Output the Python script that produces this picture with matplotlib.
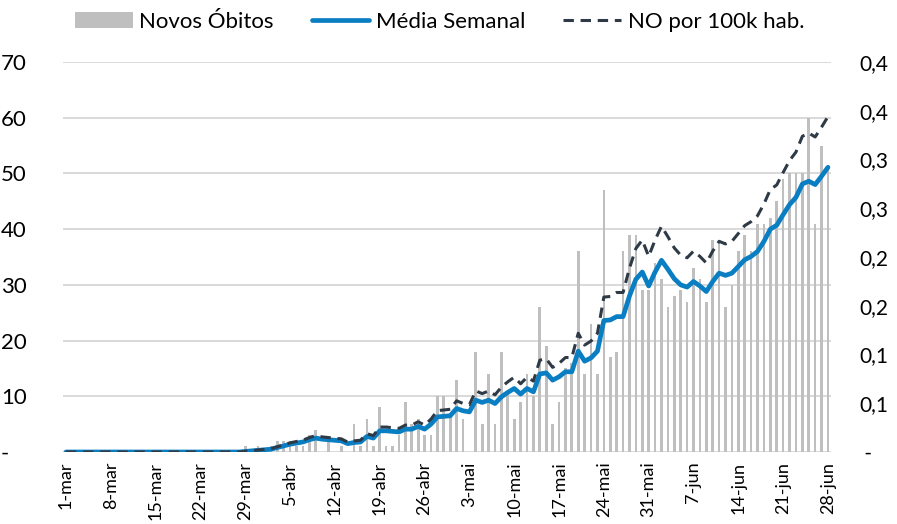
import numpy as np
import matplotlib.pyplot as plt
from matplotlib.ticker import FixedLocator, FixedFormatter

plt.rcParams["font.family"] = ["Lato", "DejaVu Sans"]

# daily deaths, 1-mar .. 28-jun
novos_obitos = [0] * 28 + [
    1, 0, 1, 0, 1, 2, 2, 2, 1, 1, 3, 4, 0, 2, 0, 1, 0, 5, 1, 6,
    1, 8, 1, 1, 3, 9, 5, 6, 3, 3, 10, 10, 7, 13, 6, 0, 18, 5, 14, 5,
    18, 11, 6, 9, 14, 10, 26, 19, 5, 9, 15, 16, 36, 14, 23, 14, 47, 17, 18, 36,
    39, 39, 29, 29, 34, 31, 26, 28, 29, 27, 33, 31, 27, 38, 38, 26, 30, 36, 39, 36,
    41, 41, 42, 45, 49, 50, 50, 50, 60, 41, 55, 51,
]

# 7-day average
media_semanal = [0.0] * 28 + [
    0.1, 0.2, 0.3, 0.4, 0.5, 0.8, 1.1, 1.4, 1.6, 1.8, 2.2, 2.5, 2.3, 2.2, 2.1, 2.0,
    1.5, 1.7, 1.8, 2.8, 2.5, 3.8, 3.8, 3.7, 3.6, 4.1, 4.1, 4.6, 4.1, 5.0, 6.3, 6.4,
    6.5, 7.8, 7.4, 7.2, 9.3, 8.9, 9.3, 8.7, 9.9, 10.7, 11.4, 10.4, 11.4, 10.8, 14.0, 14.2,
    12.9, 13.5, 14.4, 14.4, 18.1, 16.3, 16.9, 18.1, 23.6, 23.7, 24.3, 24.3, 28.0, 31.0, 32.3, 29.8,
    32.3, 34.4, 32.8, 31.1, 30.0, 29.6, 30.6, 29.8, 28.8, 30.6, 32.1, 31.7, 32.1, 33.3, 34.5, 35.1,
    36.0, 37.8, 40.0, 40.7, 42.6, 44.4, 45.7, 48.1, 48.6, 48.0, 49.5, 51.1,
]

# deaths per 100k inhabitants (right axis)
no_por_100k = [0.0] * 28 + [
    0.0007, 0.0013, 0.0020, 0.0027, 0.0034, 0.0054, 0.0074, 0.0094, 0.0108, 0.0121,
    0.0148, 0.0168, 0.0155, 0.0148, 0.0141, 0.0135, 0.0101, 0.0114, 0.0121, 0.0188,
    0.0168, 0.0256, 0.0256, 0.0249, 0.0242, 0.0276, 0.0276, 0.0310, 0.0276, 0.0337,
    0.0424, 0.0431, 0.0438, 0.0525, 0.0498, 0.0485, 0.0626, 0.0599, 0.0626, 0.0586,
    0.0666, 0.0720, 0.0767, 0.0700, 0.0767, 0.0727, 0.0942, 0.0956, 0.0868, 0.0909,
    0.0969, 0.0969, 0.1218, 0.1097, 0.1138, 0.1218, 0.1589, 0.1595, 0.1636, 0.1636,
    0.1885, 0.2087, 0.2174, 0.2006, 0.2174, 0.2315, 0.2208, 0.2093, 0.2019, 0.1992,
    0.2060, 0.2006, 0.1939, 0.2060, 0.2161, 0.2134, 0.2161, 0.2241, 0.2322, 0.2363,
    0.2423, 0.2544, 0.2692, 0.2739, 0.2867, 0.2989, 0.3076, 0.3238, 0.3271, 0.3231,
    0.3332, 0.3440,
]

tick_labels = ["1-mar", "8-mar", "15-mar", "22-mar", "29-mar", "5-abr", "12-abr",
               "19-abr", "26-abr", "3-mai", "10-mai", "17-mai", "24-mai", "31-mai",
               "7-jun", "14-jun", "21-jun", "28-jun"]

left_ticks = [0, 10, 20, 30, 40, 50, 60, 70]
left_labels = ["-   ", "10", "20", "30", "40", "50", "60", "70"]
right_ticks = [0, 0.05, 0.10, 0.15, 0.20, 0.25, 0.30, 0.35, 0.40]
right_labels = [" -", "0,1", "0,1", "0,2", "0,2", "0,3", "0,3", "0,4", "0,4"]

x = np.arange(len(novos_obitos))

fig = plt.figure(figsize=(8.97, 5.24), dpi=100)
ax = fig.add_axes([0.070, 0.1374, 0.8566, 0.7443])
ax2 = ax.twinx()

ax.set_zorder(1)
ax.patch.set_visible(False)
ax2.set_zorder(0)

grid_c = "#d9d9d9"
for t in left_ticks:
    ax2.axhline(t / 70 * 0.4, color=grid_c, lw=1.4, zorder=0)

bars = ax.bar(x, novos_obitos, width=0.42, color="#bfbfbf", zorder=2, label="Novos Óbitos")
l1, = ax.plot(x, media_semanal, color="#0a7ec2", lw=3.4, zorder=3,
              solid_capstyle="round", label="Média Semanal")
l2, = ax.plot(x, np.array(no_por_100k) * 70 / 0.4, color="#2f3a47", lw=2.2,
              dashes=(3.4, 2.2), zorder=4, label="NO por 100k hab.")

ax.set_xlim(-0.5, len(x) - 0.5)
ax.set_ylim(0, 70)
ax2.set_ylim(0, 0.4)

for a in (ax, ax2):
    for s in a.spines.values():
        s.set_visible(False)

ax.set_xticks(x[::7])
ax.set_xticklabels(tick_labels, rotation=90, fontsize=13)
ax.tick_params(axis="x", length=0, pad=7)

ax.yaxis.set_major_locator(FixedLocator(left_ticks))
ax.yaxis.set_major_formatter(FixedFormatter(left_labels))
ax.tick_params(axis="y", length=0, pad=26, labelsize=16)

ax2.yaxis.set_major_locator(FixedLocator(right_ticks))
ax2.yaxis.set_major_formatter(FixedFormatter(right_labels))
ax2.tick_params(axis="y", length=0, pad=20, labelsize=15)

fig.legend(handles=[bars, l1, l2], loc="center", bbox_to_anchor=(0.49, 0.958),
           ncol=3, frameon=False, fontsize=16, handlelength=2.6,
           handletextpad=0.3, columnspacing=1.7)

fig.savefig("out.png", dpi=100)
